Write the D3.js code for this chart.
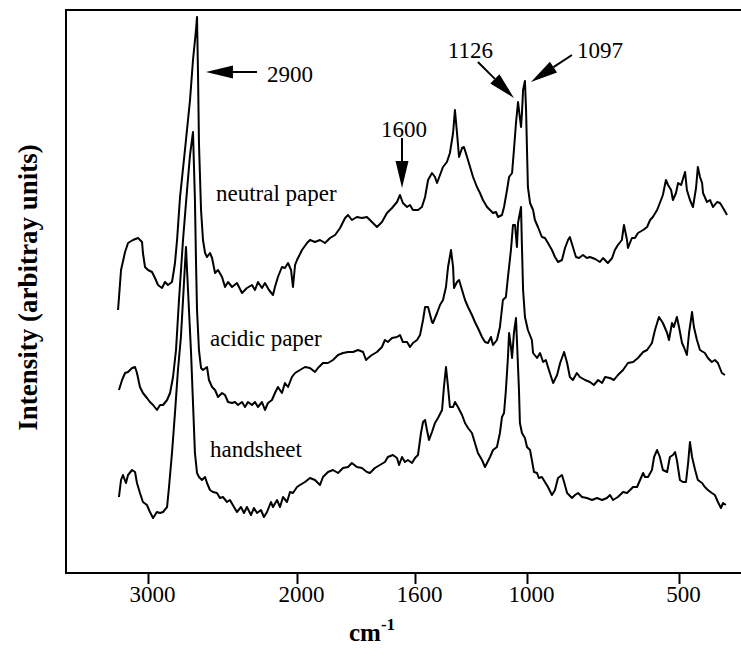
<!DOCTYPE html>
<html>
<head>
<meta charset="utf-8">
<script src="https://cdn.jsdelivr.net/npm/d3@7"></script>
<style>
  html, body { margin: 0; padding: 0; background: #fff; }
  svg { display: block; }
  text { font-family: "Liberation Serif", "Times New Roman", serif; fill: #000; }
</style>
</head>
<body>
<svg id="chart" width="741" height="662"></svg>
<script>
// Raman spectra of three paper samples (wavenumber in cm-1, intensity in arbitrary units)
const neutralWn = [3201,3181,3154,3134,3101,3067,3040,3034,3020,3000,2973,2953,2933,2906,2886,2866,2839,2826,2819,2805,2785,2752,2718,2698,2678,2671,2664,2658,2644,2631,2617,2604,2584,2570,2550,2530,2503,2483,2463,2436,2403,2369,2336,2302,2282,2262,2235,2215,2188,2161,2148,2128,2101,2081,2060,2040,2027,2013,2000,1983,1966,1956,1939,1922,1905,1888,1871,1854,1837,1827,1814,1797,1780,1763,1746,1729,1712,1695,1678,1661,1651,1641,1627,1617,1607,1584,1563,1546,1530,1509,1493,1482,1466,1450,1429,1413,1396,1386,1375,1364,1348,1338,1321,1305,1289,1268,1252,1236,1214,1198,1182,1166,1155,1134,1123,1107,1096,1080,1070,1059,1048,1043,1032,1027,1021,1011,1005,1000,997,990,980,974,964,951,941,931,918,908,898,885,875,865,859,849,839,829,816,803,793,776,760,750,734,720,711,701,688,681,671,668,655,645,635,618,605,595,586,572,563,553,543,536,526,520,510,503,493,480,474,464,454,444,438,431,424,421,408,398,388,375,365,355,342];
const neutralI = [263,303,321,330,333,335,331,320,306,303,301,295,288,285,291,288,291,303,310,333,376,423,473,513,543,556,496,430,363,333,320,316,320,315,300,303,296,286,291,286,290,280,285,288,283,291,285,290,283,278,286,296,306,305,310,303,286,308,313,323,330,333,331,333,330,335,338,345,355,358,353,356,355,356,351,346,351,360,365,371,378,370,366,368,363,363,366,376,393,400,396,390,398,406,411,420,440,463,440,416,425,426,416,406,396,386,380,373,366,363,360,361,356,358,366,383,396,400,423,450,471,463,446,460,483,492,463,423,386,370,363,353,346,336,335,330,323,316,311,313,325,333,336,326,316,315,318,315,316,314,311,315,310,315,323,328,333,348,333,325,335,335,340,343,346,353,356,363,370,378,393,388,383,373,380,390,388,401,383,373,366,385,406,396,390,380,371,373,366,371,370,365,358];

const acidicWn = [3195,3174,3154,3134,3107,3087,3074,3054,3034,3007,2987,2966,2940,2919,2899,2872,2852,2832,2812,2792,2765,2738,2718,2698,2685,2678,2671,2658,2644,2631,2604,2591,2570,2550,2530,2503,2483,2463,2436,2416,2396,2369,2349,2329,2302,2282,2262,2235,2215,2195,2168,2148,2128,2101,2081,2060,2034,2013,1990,1973,1956,1939,1929,1912,1895,1878,1861,1844,1827,1810,1793,1776,1766,1759,1746,1729,1712,1702,1692,1678,1661,1651,1641,1627,1617,1607,1589,1573,1557,1546,1530,1509,1504,1482,1466,1450,1434,1423,1407,1396,1391,1375,1364,1348,1332,1316,1295,1279,1263,1241,1225,1209,1193,1182,1161,1145,1129,1113,1102,1086,1075,1064,1054,1048,1032,1027,1021,1011,997,984,980,967,957,947,938,928,914,901,891,878,868,859,849,836,826,809,793,780,766,753,743,727,714,701,684,668,651,635,618,605,589,579,566,553,539,533,523,517,507,500,490,484,474,467,457,451,441,431,415,405,392,382,372,359,349];
const acidicI = [183,193,200,201,205,206,200,186,180,175,171,168,163,168,168,173,180,196,223,273,333,383,418,441,373,313,263,223,205,203,206,193,186,183,176,180,178,171,170,171,168,171,166,171,168,171,166,171,163,170,173,180,186,180,190,186,196,200,203,206,205,201,205,210,210,213,218,220,221,221,223,221,213,215,218,221,226,233,231,235,236,238,231,231,226,230,233,238,253,266,266,251,250,260,268,273,286,306,323,306,285,291,293,283,273,266,258,251,245,236,231,230,236,228,233,246,273,276,296,323,348,348,326,350,366,326,283,256,243,233,220,215,220,211,213,203,190,198,210,221,210,196,193,200,196,193,191,188,193,190,196,195,193,198,203,210,211,215,221,223,230,243,256,250,240,233,250,246,256,246,230,226,218,240,261,246,233,223,220,215,211,213,210,200,198];

const handsheetWn = [3195,3181,3168,3148,3134,3107,3087,3074,3054,3034,3007,2987,2966,2940,2919,2899,2872,2859,2839,2819,2799,2779,2765,2752,2745,2738,2725,2711,2698,2685,2671,2658,2638,2617,2604,2584,2564,2537,2517,2497,2470,2450,2423,2403,2376,2356,2336,2309,2289,2268,2242,2222,2201,2175,2161,2134,2114,2094,2067,2047,2027,2000,1990,1973,1956,1939,1922,1912,1895,1878,1861,1844,1827,1814,1797,1780,1763,1753,1736,1719,1702,1692,1675,1661,1654,1644,1634,1624,1610,1600,1584,1568,1557,1546,1536,1525,1509,1493,1477,1455,1445,1434,1423,1413,1396,1386,1370,1348,1332,1316,1295,1279,1263,1241,1225,1214,1198,1182,1161,1145,1134,1123,1113,1102,1096,1086,1080,1070,1059,1054,1043,1038,1027,1011,1000,990,984,977,967,961,951,941,931,918,908,898,885,878,868,852,842,832,819,803,786,770,753,737,727,717,701,684,671,661,651,638,628,618,612,602,589,582,572,563,553,539,530,520,513,507,497,487,477,470,464,457,447,438,424,415,405,392,382,372,362,355,346];
const handsheetI = [76,93,98,90,98,103,101,90,80,71,68,61,55,61,60,61,66,86,120,160,203,236,273,308,326,303,263,220,170,120,100,96,93,96,90,83,81,80,75,76,71,73,66,61,66,60,66,58,65,60,63,56,61,71,66,73,66,76,71,81,80,86,88,91,95,93,88,96,101,103,100,105,106,110,106,105,101,100,105,108,111,116,118,115,108,116,111,113,110,115,118,140,151,153,143,133,141,150,155,163,186,206,186,166,166,171,166,158,150,145,140,130,120,113,106,110,116,123,126,140,156,160,183,216,240,226,215,240,255,233,183,150,140,135,126,123,113,101,100,95,96,91,86,78,83,95,98,91,80,75,78,80,76,75,73,75,73,75,78,73,76,81,80,83,86,86,93,100,96,96,103,116,123,116,103,101,116,118,121,113,93,91,91,110,131,116,103,93,90,86,83,80,78,71,65,70,68];

const traceNames = ["neutral paper", "acidic paper", "handsheet"];
const tickValues = [3000, 2000, 1600, 1000, 500];

// annotated bands: label and the point each arrow tip touches
const peakLabels = ["2900", "1600", "1126", "1097"];
const peakTipWn = [2611, 1644, 1070, 987];
const peakTipI = [501, 385, 475, 491];

const W = 741, H = 662;
const margin = { top: 10, left: 66, bottom: 89 };
const plotW = 680;                 // frame runs past the right edge of the page
const plotH = H - margin.top - margin.bottom;

const svg = d3.select("#chart");
const g = svg.append("g").attr("transform", `translate(${margin.left},${margin.top})`);

// the printed wavenumber axis is not uniform: each labelled tick has its own spot
const tickPos = [82, 231, 349, 461, 613];
const x = d3.scaleLinear().domain(tickValues).range(tickPos);
const y = d3.scaleLinear().domain([0, plotH]).range([plotH, 0]);

// frame
g.append("rect")
  .attr("x", 0).attr("y", 0)
  .attr("width", plotW).attr("height", plotH)
  .attr("fill", "none").attr("stroke", "#000").attr("stroke-width", 2);

// bottom axis
const xAxis = g.append("g")
  .attr("transform", `translate(0,${plotH})`)
  .call(d3.axisBottom(x).tickValues(tickValues).tickSize(11).tickPadding(2).tickFormat(d3.format("d")));
xAxis.select(".domain").remove();
xAxis.selectAll(".tick line").attr("stroke", "#000").attr("stroke-width", 2);
xAxis.selectAll(".tick text")
  .attr("font-family", "Liberation Serif, Times New Roman, serif")
  .attr("font-size", 23).attr("fill", "#000").attr("dx", 4);

// spectra
const series = [
  { name: traceNames[0], wn: neutralWn, vals: neutralI },
  { name: traceNames[1], wn: acidicWn, vals: acidicI },
  { name: traceNames[2], wn: handsheetWn, vals: handsheetI }
];
const line = d3.line().x(d => x(d[0])).y(d => y(d[1]));
g.selectAll("path.spectrum")
  .data(series)
  .join("path")
  .attr("class", "spectrum")
  .attr("d", s => line(s.wn.map((w, i) => [w, s.vals[i]])))
  .attr("fill", "none")
  .attr("stroke", "#000")
  .attr("stroke-width", 2)
  .attr("stroke-linejoin", "round");

// sample names beside each spectrum
const namePos = [[150, 191], [144, 336], [144, 447]];
g.selectAll("text.name")
  .data(series)
  .join("text")
  .attr("class", "name")
  .attr("x", (d, i) => namePos[i][0])
  .attr("y", (d, i) => namePos[i][1])
  .attr("font-size", 23)
  .text(d => d.name);

// arrows to the labelled bands
const arrowLayout = [
  { tail: [51, 0],   text: [61, 10],  anchor: "start" },
  { tail: [0, -50],  text: [2, -51],  anchor: "middle" },
  { tail: [-36, -36], text: [-21, -40], anchor: "end" },
  { tail: [41, -27], text: [46, -24], anchor: "start" }
];
const headLen = 27, headHalf = 6.5;
peakLabels.forEach((lab, i) => {
  const tx = x(peakTipWn[i]), ty = y(peakTipI[i]);
  const L = arrowLayout[i];
  const sx = tx + L.tail[0], sy = ty + L.tail[1];
  const len = Math.hypot(sx - tx, sy - ty);
  const ux = (sx - tx) / len, uy = (sy - ty) / len;
  const bx = tx + ux * headLen, by = ty + uy * headLen;
  g.append("line")
    .attr("x1", sx).attr("y1", sy).attr("x2", bx).attr("y2", by)
    .attr("stroke", "#000").attr("stroke-width", 2);
  g.append("path")
    .attr("d", `M${tx},${ty}L${bx - uy * headHalf},${by + ux * headHalf}L${bx + uy * headHalf},${by - ux * headHalf}Z`)
    .attr("fill", "#000");
  g.append("text")
    .attr("x", tx + L.text[0]).attr("y", ty + L.text[1])
    .attr("text-anchor", L.anchor)
    .attr("font-size", 23)
    .text(lab);
});

// axis titles
const xTitle = svg.append("text")
  .attr("x", 372).attr("y", 641)
  .attr("text-anchor", "middle")
  .attr("font-weight", "bold")
  .attr("font-size", 25);
xTitle.append("tspan").text("cm");
xTitle.append("tspan").attr("dy", -11).attr("font-size", 17).text("-1");

svg.append("text")
  .attr("transform", `translate(37,${margin.top + plotH / 2 - 4}) rotate(-90)`)
  .attr("text-anchor", "middle")
  .attr("font-weight", "bold")
  .attr("font-size", 27)
  .text("Intensity (arbitray units)");
</script>
</body>
</html>
